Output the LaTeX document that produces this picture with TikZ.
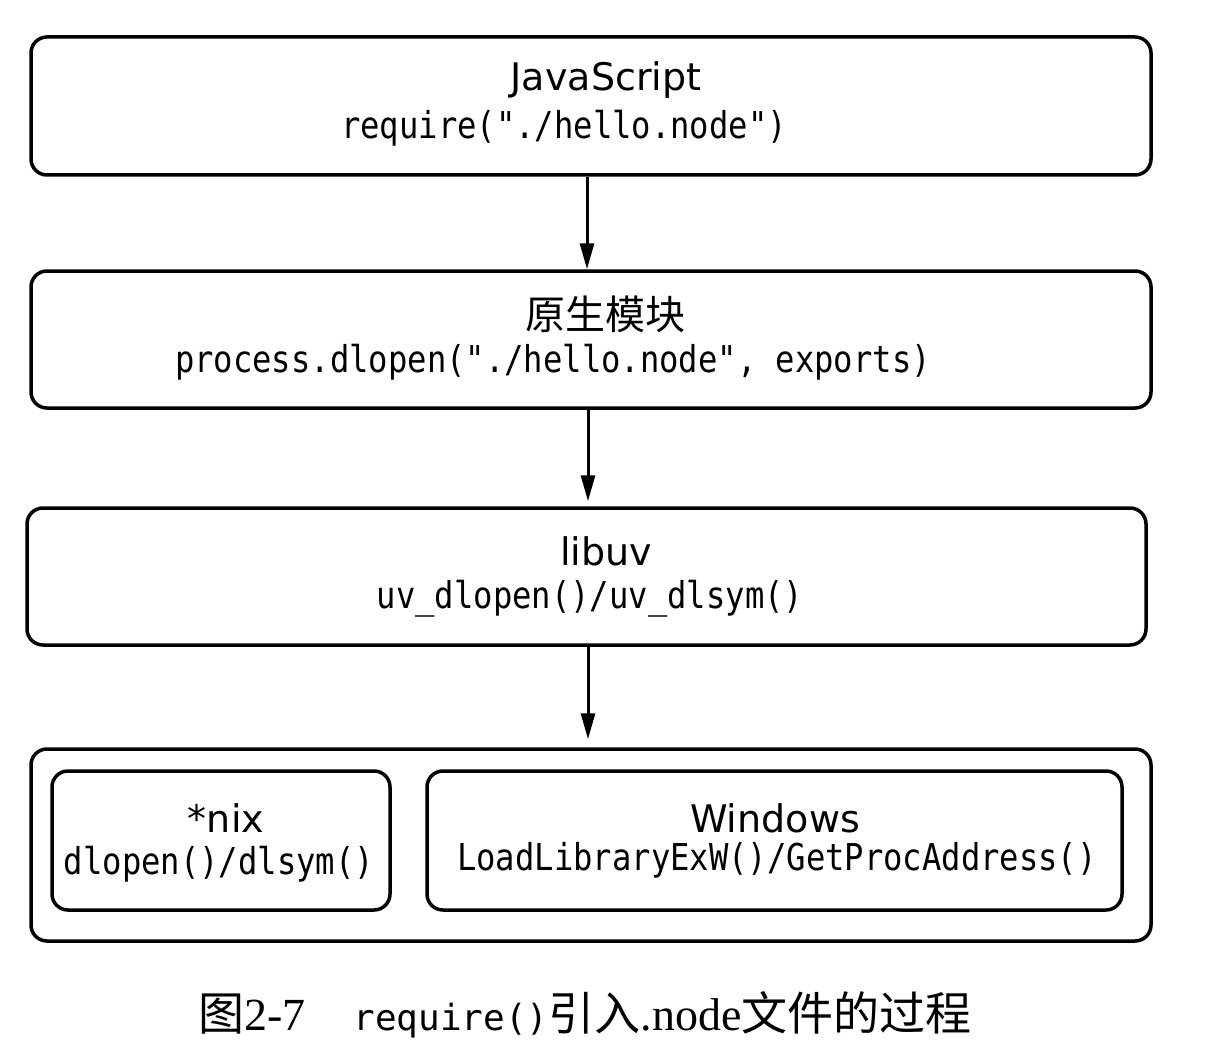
\documentclass[tikz,border=0pt]{standalone}
\usepackage{fontspec}
\usetikzlibrary{arrows.meta}
\setmainfont{Liberation Serif}
\newfontfamily\sansf{DejaVu Sans}
\newfontfamily\codef[FakeStretch=0.87]{DejaVu Sans Mono}
\newfontfamily\cjk{Noto Sans CJK SC}
\newfontfamily\capmono{DejaVu Sans Mono}
\begin{document}
\begin{tikzpicture}[x=1pt,y=-1pt,
  box/.style={draw,line width=3.5pt,rounded corners=16pt,inner sep=0pt},
  title/.style={font=\sansf\fontsize{38}{40}\selectfont,inner sep=0pt},
  code/.style={font=\codef\fontsize{37}{39}\selectfont,inner sep=0pt},
  arr/.style={line width=3pt,-{Triangle[length=26pt,width=14pt]}}]
\useasboundingbox (0,0) rectangle (1214,1043);

% stacked layers
\node[box,minimum width=1120pt,minimum height=138pt] (b1) at (591,106) {};
\node[box,minimum width=1120pt,minimum height=137pt] (b2) at (591,339.5) {};
\node[box,minimum width=1119pt,minimum height=137pt] (b3) at (586.5,576.5) {};
\node[box,minimum width=1120pt,minimum height=192pt] (b4) at (591,845) {};
\node[box,minimum width=338pt,minimum height=139pt] (nix) at (221,840.5) {};
\node[box,minimum width=695pt,minimum height=139pt] (win) at (774.5,840.5) {};

% labels
\node[title] (t1) at (606,80) {JavaScript};
\node[code] (c1) at (564,128) {require("./hello.node")};
\node[font=\cjk\fontsize{40}{42}\selectfont,inner sep=0pt] (t2) at (605,314) {原生模块};
\node[code] (c2) at (553,362) {process.dlopen("./hello.node", exports)};
\node[title] (t3) at (606,551) {libuv};
\node[code] (c3) at (590,599) {uv\_dlopen()/uv\_dlsym()};
\node[title] (t4) at (226,818) {*nix};
\node[code] (c4) at (219,864) {dlopen()/dlsym()};
\node[title] (t5) at (775,818) {Windows};
\node[code] (c5) at (777,860) {LoadLibraryExW()/GetProcAddress()};

% flow
\draw[arr] (b1.south -| 587,0) -- (b2.north -| 587,0);
\draw[arr,shorten >=5pt] (b2.south -| 588,0) -- (b3.north -| 588,0);
\draw[arr,shorten >=8pt] (b3.south -| 588,0) -- (b4.north -| 588,0);

% caption
\node[inner sep=0pt,anchor=west] (cap) at (198,1015)
  {\fontsize{46}{48}\selectfont{\cjk 图}2-7\hspace{48pt}{\capmono\fontsize{36}{38}\selectfont require()}{\cjk 引入}.node{\cjk 文件的过程}};
\end{tikzpicture}
\end{document}
